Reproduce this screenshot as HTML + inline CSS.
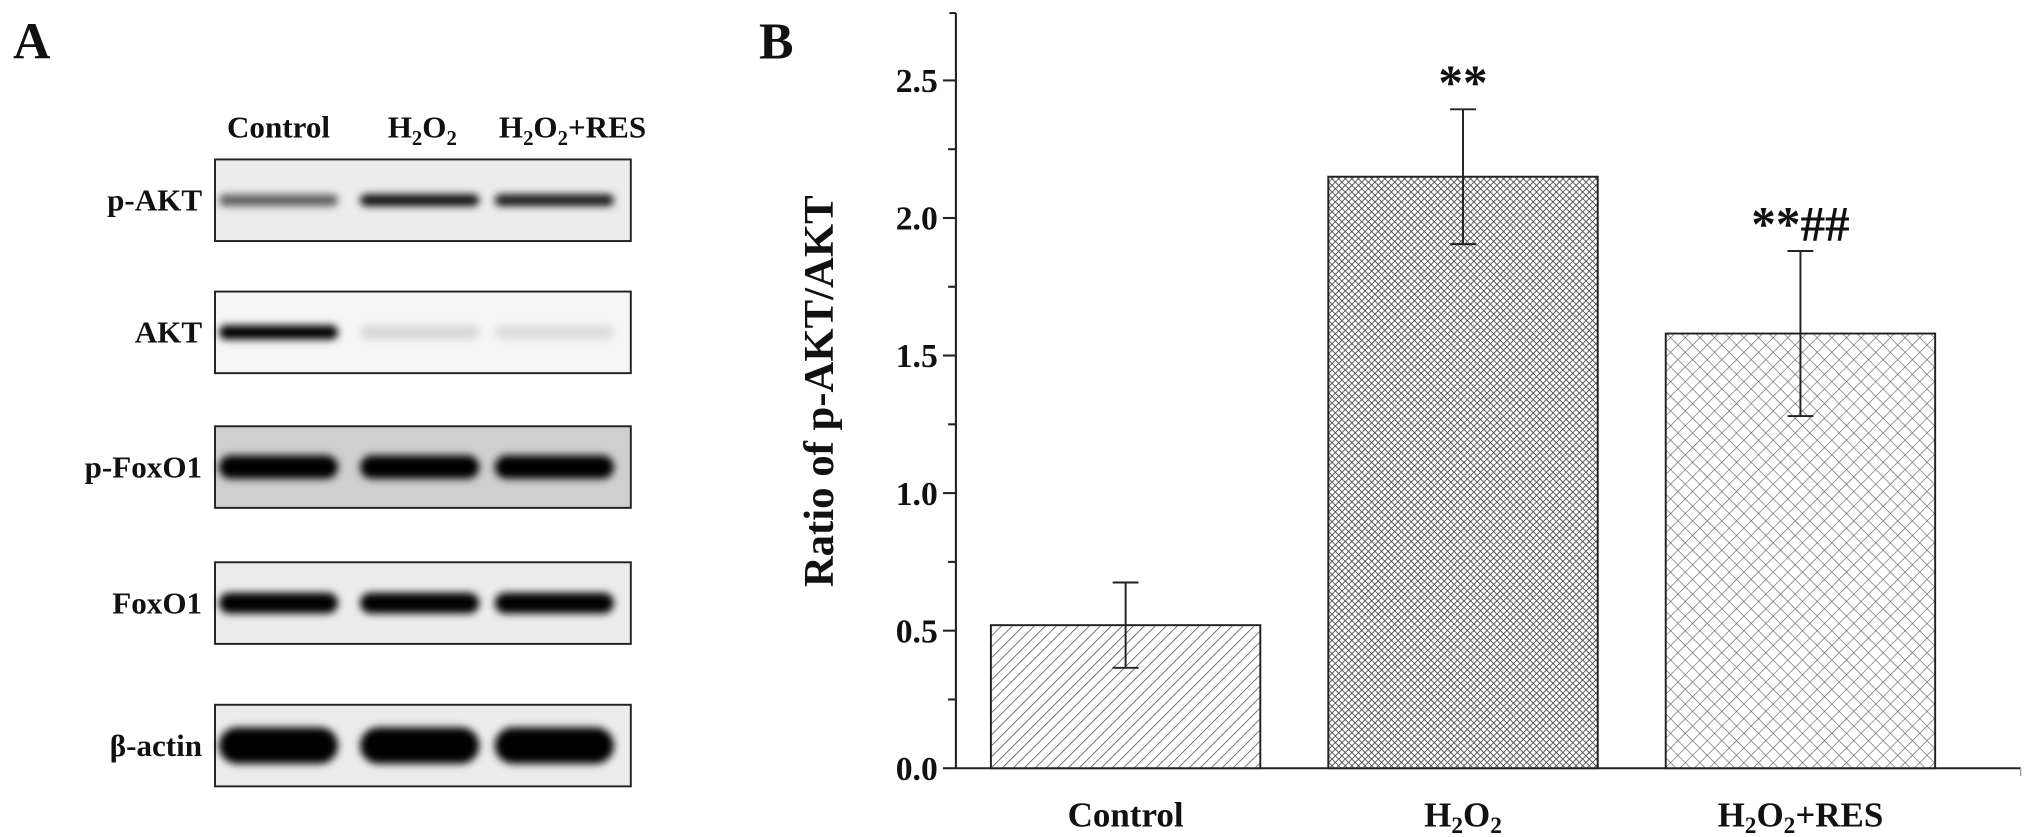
<!DOCTYPE html>
<html><head><meta charset="utf-8"><style>
html,body{margin:0;padding:0;background:#fff;}
svg{display:block;}
text{font-family:"Liberation Serif",serif;font-weight:bold;fill:#111;}
</style></head><body>
<svg id="fig" width="2031" height="837" viewBox="0 0 1568 646" xmlns="http://www.w3.org/2000/svg">
<defs>
<filter id="blur3" x="-20%" y="-80%" width="140%" height="260%"><feGaussianBlur stdDeviation="3"/></filter>
<pattern id="hatchDiag" patternUnits="userSpaceOnUse" width="6" height="6" patternTransform="rotate(45)">
<rect width="6" height="6" fill="#fff"/><line x1="0" y1="0" x2="0" y2="6" stroke="#555" stroke-width="1.2"/></pattern>
<pattern id="hatchDense" patternUnits="userSpaceOnUse" width="3.6" height="3.6" patternTransform="rotate(45)">
<rect width="3.6" height="3.6" fill="#fff"/><line x1="0" y1="0" x2="0" y2="3.6" stroke="#444" stroke-width="1.3"/><line x1="0" y1="0" x2="3.6" y2="0" stroke="#444" stroke-width="1.3"/></pattern>
<pattern id="hatchCross" patternUnits="userSpaceOnUse" width="8" height="8" patternTransform="rotate(45)">
<rect width="8" height="8" fill="#fff"/><line x1="0" y1="0" x2="0" y2="8" stroke="#666" stroke-width="1"/><line x1="0" y1="0" x2="8" y2="0" stroke="#666" stroke-width="1"/></pattern>
</defs>

<text x="10" y="45" font-size="40">A</text>
<text x="586" y="45" font-size="40">B</text>

<g>
<text x="215" y="106" font-size="24" text-anchor="middle">Control</text>
<text x="326" y="106" font-size="24" text-anchor="middle">H<tspan font-size="16" dy="6">2</tspan><tspan dy="-6">O</tspan><tspan font-size="16" dy="6">2</tspan></text>
<text x="442" y="106" font-size="24" text-anchor="middle">H<tspan font-size="16" dy="6">2</tspan><tspan dy="-6">O</tspan><tspan font-size="16" dy="6">2</tspan><tspan dy="-6">+RES</tspan></text>
</g>
<g id="blots"></g>

<g id="chart"></g>
</svg>
<script>
// Blot data
var blotRows = ["p-AKT","AKT","p-FoxO1","FoxO1","β-actin"];
var blotTops = [123,225,329,434,544];
var blotBg = ["#ececec","#f6f6f6","#cfcfcf","#ececec","#ececec"];
var bandIntensity = [[0.6,0.95,0.9],[1,0.12,0.1],[1,1,1],[1,1,1],[1,1,1]];
var bandHeight = [9,11,18,16,28];
var lanes = [215,324,428];
var NS="http://www.w3.org/2000/svg";
function mk(t,a,p){var e=document.createElementNS(NS,t);for(var k in a)e.setAttribute(k,a[k]);(p||document.getElementById('fig')).appendChild(e);return e;}
var bl=document.getElementById('blots');
blotRows.forEach(function(r,i){
  var top=blotTops[i],h=63;
  var g=mk('g',{},bl);
  
  
  var lab=mk('text',{x:156,y:top+h/2+8,'font-size':24,'text-anchor':'end'},g);
  lab.textContent=r;
  
  
  mk('rect',{x:166,y:top,width:321,height:h,fill:blotBg[i],stroke:'#222','stroke-width':1.5},g);
  lanes.forEach(function(cx,j){
    var v=bandIntensity[i][j];
    var b=mk('rect',{x:cx-46,y:top+h/2-bandHeight[i]/2,width:92,height:bandHeight[i],rx:bandHeight[i]/2,fill:'#000','fill-opacity':v,filter:'url(#blur3)'},g);
    
    
  });
});

// Chart data
var categories = ["Control","H2O2","H2O2+RES"];
var means = [0.52,2.15,1.58];
var errs = [0.155,0.245,0.30];
var annotations = ["","**","**##"];
var yTicks = [0,0.5,1.0,1.5,2.0,2.5];
var yTickLabels = ["0.0","0.5","1.0","1.5","2.0","2.5"];
var fills = ["url(#hatchDiag)","url(#hatchDense)","url(#hatchCross)"];

var axX=738, y0=593, pxPerUnit=212.4, bandStart=765, bandStep=260.5, barW=208;
function yS(v){return y0-v*pxPerUnit;}
function xC(i){return bandStart+i*bandStep+barW/2;}
var ch=document.getElementById('chart');
var ax=mk('line',{x1:axX,y1:10,x2:axX,y2:y0,stroke:'#222','stroke-width':1.6},ch);


var xa=mk('line',{x1:axX,y1:y0,x2:1560,y2:y0,stroke:'#222','stroke-width':1.6},ch);


mk('line',{x1:axX-5,y1:10,x2:axX,y2:10,stroke:'#222','stroke-width':1.6},ch);
mk('line',{x1:1560,y1:y0,x2:1560,y2:y0+6,stroke:'#999','stroke-width':1},ch);
yTicks.forEach(function(v,i){
  var y=yS(v);
  mk('line',{x1:axX-10,y1:y,x2:axX,y2:y,stroke:'#222','stroke-width':1.6},ch);
  if(i<yTicks.length-1) mk('line',{x1:axX-6,y1:yS(v+0.25),x2:axX,y2:yS(v+0.25),stroke:'#222','stroke-width':1.6},ch);
  var t=mk('text',{x:axX-14,y:y+9,'font-size':26,'text-anchor':'end'},ch);
  t.textContent=yTickLabels[i];
  
  
});
var yt=mk('text',{x:0,y:0,'font-size':33,'text-anchor':'middle',transform:'translate(643,302) rotate(-90)'},ch);
yt.textContent='Ratio of p-AKT/AKT';


categories.forEach(function(c,i){
  var cx=xC(i), top=yS(means[i]);
  var r=mk('rect',{x:cx-barW/2,y:top,width:barW,height:y0-top,fill:fills[i],stroke:'#222','stroke-width':1.5},ch);
  
  
  var hi=yS(means[i]+errs[i]), lo=yS(means[i]-errs[i]);
  var e=mk('path',{d:'M'+cx+' '+hi+'V'+lo+'M'+(cx-10)+' '+hi+'H'+(cx+10)+'M'+(cx-10)+' '+lo+'H'+(cx+10),stroke:'#222','stroke-width':1.5,fill:'none'},ch);
  
  
  if(annotations[i]){
    var a=mk('text',{x:cx,y:hi-8,'font-size':38,'font-weight':'normal','text-anchor':'middle'},ch);
    a.textContent=annotations[i];
    
    
  }
  var l=mk('text',{x:cx,y:638,'font-size':27,'text-anchor':'middle'},ch);
  if(c==='Control') l.textContent='Control';
  else { l.innerHTML='H<tspan font-size="18" dy="5">2</tspan><tspan dy="-5">O</tspan><tspan font-size="18" dy="5">2</tspan>'+(c==='H2O2+RES'?'<tspan dy="-5">+RES</tspan>':''); }
  
  
});
</script>
</body></html>
